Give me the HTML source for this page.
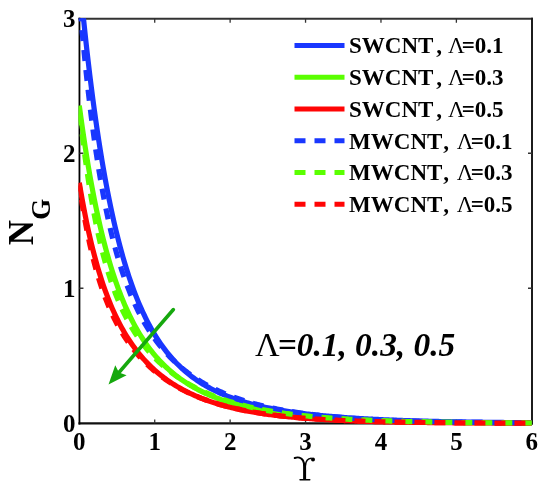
<!DOCTYPE html>
<html><head><meta charset="utf-8"><style>
html,body{margin:0;padding:0;background:#fff;width:550px;height:492px;overflow:hidden}
svg{display:block;filter:blur(0.35px)}
text{font-family:"Liberation Serif",serif;font-kerning:none}
</style></head><body>
<svg width="550" height="492" viewBox="0 0 550 492">
<rect width="550" height="492" fill="#fff"/>
<defs><clipPath id="c"><rect x="78.5" y="18.2" width="454.1" height="408.1"/></clipPath></defs>
<g stroke="#000" stroke-width="2" fill="none">
<path d="M78.45,18.75H533.00" stroke="#333" stroke-width="1.9"/>
<path d="M78.45,423.45H533.00" stroke="#111" stroke-width="2.2"/>
<path d="M79.45,17.85V424.45" stroke="#000" stroke-width="1.8"/>
<path d="M532.00,17.85V424.45" stroke="#1c1c1c" stroke-width="2"/>
<path d="M154.72,423.45v-4M154.72,18.75v4" stroke-width="1.3" stroke="#333"/>
<path d="M230.13,423.45v-4M230.13,18.75v4" stroke-width="1.3" stroke="#333"/>
<path d="M305.55,423.45v-4M305.55,18.75v4" stroke-width="1.3" stroke="#333"/>
<path d="M380.97,423.45v-4M380.97,18.75v4" stroke-width="1.3" stroke="#333"/>
<path d="M456.38,423.45v-4M456.38,18.75v4" stroke-width="1.3" stroke="#333"/>
<path d="M79.45,288.27h4M532.00,288.27h-4" stroke-width="1.3" stroke="#333"/>
<path d="M79.45,153.23h4M532.00,153.23h-4" stroke-width="1.3" stroke="#333"/>
</g>
<g clip-path="url(#c)" fill="none" stroke-width="5.2" stroke-linejoin="round">
<path d="M79.30,-24.65 L80.81,-8.55 L82.32,6.91 L83.83,21.75 L85.33,36.00 L86.84,49.68 L88.35,62.82 L89.86,75.45 L91.37,87.57 L92.88,99.22 L94.38,110.41 L95.89,121.16 L97.40,131.49 L98.91,141.43 L100.42,150.97 L101.92,160.15 L103.43,168.98 L104.94,177.46 L106.45,185.62 L107.96,193.47 L109.47,201.02 L110.97,208.28 L112.48,215.27 L113.99,222.00 L115.50,228.47 L117.01,234.70 L118.52,240.70 L120.03,246.48 L121.53,252.04 L123.04,257.40 L124.55,262.56 L126.06,267.54 L127.57,272.33 L129.07,276.94 L130.58,281.40 L132.09,285.69 L133.60,289.82 L135.11,293.81 L136.62,297.66 L138.12,301.37 L139.63,304.95 L141.14,308.41 L142.65,311.74 L144.16,314.96 L145.67,318.07 L147.17,321.07 L148.68,323.97 L150.19,326.77 L151.70,329.47 L153.21,332.09 L154.72,334.61 L156.22,337.05 L157.73,339.41 L159.24,341.70 L160.75,343.90 L162.26,346.04 L163.77,348.10 L165.27,350.10 L166.78,352.04 L168.29,353.91 L169.80,355.72 L171.31,357.48 L172.82,359.18 L174.32,360.82 L175.83,362.42 L177.34,363.96 L178.85,365.46 L180.36,366.91 L181.87,368.32 L183.37,369.69 L184.88,371.01 L186.39,372.30 L187.90,373.54 L189.41,374.75 L190.92,375.93 L192.42,377.07 L193.93,378.17 L195.44,379.25 L196.95,380.29 L198.46,381.31 L199.97,382.29 L201.47,383.25 L202.98,384.18 L204.49,385.08 L206.00,385.96 L207.51,386.82 L209.02,387.65 L210.52,388.46 L212.03,389.25 L213.54,390.01 L215.05,390.76 L216.56,391.49 L218.07,392.19 L219.57,392.88 L221.08,393.55 L222.59,394.20 L224.10,394.84 L225.61,395.46 L227.12,396.06 L228.62,396.65 L230.13,397.22 L231.64,397.78 L233.15,398.33 L234.66,398.86 L236.17,399.38 L237.67,399.88 L239.18,400.38 L240.69,400.86 L242.20,401.33 L243.71,401.78 L245.22,402.23 L246.72,402.67 L248.23,403.09 L249.74,403.51 L251.25,403.92 L252.76,404.31 L254.27,404.70 L255.77,405.08 L257.28,405.45 L258.79,405.81 L260.30,406.16 L261.81,406.51 L263.32,406.85 L264.82,407.18 L266.33,407.50 L267.84,407.81 L269.35,408.12 L270.86,408.42 L272.37,408.72 L273.87,409.01 L275.38,409.29 L276.89,409.56 L278.40,409.83 L279.91,410.10 L281.42,410.36 L282.93,410.61 L284.43,410.86 L285.94,411.10 L287.45,411.33 L288.96,411.57 L290.47,411.79 L291.97,412.02 L293.48,412.23 L294.99,412.45 L296.50,412.66 L298.01,412.86 L299.52,413.06 L301.02,413.26 L302.53,413.45 L304.04,413.64 L305.55,413.82 L307.06,414.00 L308.57,414.18 L310.07,414.35 L311.58,414.52 L313.09,414.69 L314.60,414.85 L316.11,415.01 L317.62,415.17 L319.12,415.32 L320.63,415.47 L322.14,415.62 L323.65,415.76 L325.16,415.90 L326.67,416.04 L328.17,416.18 L329.68,416.31 L331.19,416.44 L332.70,416.57 L334.21,416.69 L335.72,416.82 L337.22,416.94 L338.73,417.06 L340.24,417.17 L341.75,417.29 L343.26,417.40 L344.77,417.51 L346.27,417.62 L347.78,417.72 L349.29,417.82 L350.80,417.93 L352.31,418.03 L353.82,418.12 L355.32,418.22 L356.83,418.31 L358.34,418.40 L359.85,418.49 L361.36,418.58 L362.87,418.67 L364.37,418.76 L365.88,418.84 L367.39,418.92 L368.90,419.00 L370.41,419.08 L371.92,419.16 L373.42,419.23 L374.93,419.31 L376.44,419.38 L377.95,419.45 L379.46,419.52 L380.97,419.59 L382.47,419.66 L383.98,419.73 L385.49,419.79 L387.00,419.86 L388.51,419.92 L390.02,419.98 L391.52,420.04 L393.03,420.10 L394.54,420.16 L396.05,420.22 L397.56,420.27 L399.07,420.33 L400.57,420.38 L402.08,420.44 L403.59,420.49 L405.10,420.54 L406.61,420.59 L408.12,420.64 L409.62,420.69 L411.13,420.74 L412.64,420.78 L414.15,420.83 L415.66,420.87 L417.17,420.92 L418.67,420.96 L420.18,421.00 L421.69,421.05 L423.20,421.09 L424.71,421.13 L426.22,421.17 L427.72,421.21 L429.23,421.24 L430.74,421.28 L432.25,421.32 L433.76,421.35 L435.27,421.39 L436.77,421.42 L438.28,421.46 L439.79,421.49 L441.30,421.52 L442.81,421.56 L444.32,421.59 L445.83,421.62 L447.33,421.65 L448.84,421.68 L450.35,421.71 L451.86,421.74 L453.37,421.77 L454.88,421.79 L456.38,421.82 L457.89,421.85 L459.40,421.87 L460.91,421.90 L462.42,421.93 L463.92,421.95 L465.43,421.97 L466.94,422.00 L468.45,422.02 L469.96,422.05 L471.47,422.07 L472.97,422.09 L474.48,422.11 L475.99,422.13 L477.50,422.15 L479.01,422.18 L480.52,422.20 L482.02,422.22 L483.53,422.24 L485.04,422.25 L486.55,422.27 L488.06,422.29 L489.57,422.31 L491.07,422.33 L492.58,422.35 L494.09,422.36 L495.60,422.38 L497.11,422.40 L498.62,422.41 L500.12,422.43 L501.63,422.45 L503.14,422.46 L504.65,422.48 L506.16,422.49 L507.67,422.51 L509.17,422.52 L510.68,422.53 L512.19,422.55 L513.70,422.56 L515.21,422.57 L516.72,422.59 L518.22,422.60 L519.73,422.61 L521.24,422.63 L522.75,422.64 L524.26,422.65 L525.77,422.66 L527.27,422.67 L528.78,422.68 L530.29,422.70 L531.80,422.71" stroke="#1937ff"/>
<path d="M79.30,105.54 L80.81,116.82 L82.32,127.63 L83.83,137.99 L85.33,147.92 L86.84,157.44 L88.35,166.57 L89.86,175.33 L91.37,183.73 L92.88,191.79 L94.38,199.52 L95.89,206.95 L97.40,214.08 L98.91,220.93 L100.42,227.51 L101.92,233.83 L103.43,239.91 L104.94,245.75 L106.45,251.36 L107.96,256.76 L109.47,261.96 L110.97,266.96 L112.48,271.77 L113.99,276.40 L115.50,280.86 L117.01,285.16 L118.52,289.30 L120.03,293.29 L121.53,297.13 L123.04,300.84 L124.55,304.41 L126.06,307.86 L127.57,311.18 L129.07,314.39 L130.58,317.49 L132.09,320.48 L133.60,323.37 L135.11,326.16 L136.62,328.86 L138.12,331.46 L139.63,333.98 L141.14,336.41 L142.65,338.77 L144.16,341.05 L145.67,343.25 L147.17,345.38 L148.68,347.45 L150.19,349.45 L151.70,351.38 L153.21,353.26 L154.72,355.08 L156.22,356.84 L157.73,358.54 L159.24,360.20 L160.75,361.80 L162.26,363.36 L163.77,364.87 L165.27,366.33 L166.78,367.75 L168.29,369.13 L169.80,370.47 L171.31,371.77 L172.82,373.04 L174.32,374.27 L175.83,375.46 L177.34,376.62 L178.85,377.74 L180.36,378.84 L181.87,379.90 L183.37,380.94 L184.88,381.94 L186.39,382.92 L187.90,383.88 L189.41,384.80 L190.92,385.71 L192.42,386.59 L193.93,387.44 L195.44,388.27 L196.95,389.08 L198.46,389.87 L199.97,390.64 L201.47,391.39 L202.98,392.12 L204.49,392.84 L206.00,393.53 L207.51,394.21 L209.02,394.86 L210.52,395.51 L212.03,396.13 L213.54,396.75 L215.05,397.34 L216.56,397.92 L218.07,398.49 L219.57,399.04 L221.08,399.58 L222.59,400.11 L224.10,400.62 L225.61,401.13 L227.12,401.61 L228.62,402.09 L230.13,402.56 L231.64,403.02 L233.15,403.46 L234.66,403.89 L236.17,404.32 L237.67,404.73 L239.18,405.14 L240.69,405.53 L242.20,405.92 L243.71,406.30 L245.22,406.67 L246.72,407.03 L248.23,407.38 L249.74,407.72 L251.25,408.06 L252.76,408.39 L254.27,408.71 L255.77,409.02 L257.28,409.33 L258.79,409.63 L260.30,409.92 L261.81,410.21 L263.32,410.49 L264.82,410.76 L266.33,411.03 L267.84,411.29 L269.35,411.55 L270.86,411.80 L272.37,412.04 L273.87,412.28 L275.38,412.51 L276.89,412.74 L278.40,412.97 L279.91,413.19 L281.42,413.40 L282.93,413.61 L284.43,413.82 L285.94,414.02 L287.45,414.21 L288.96,414.40 L290.47,414.59 L291.97,414.78 L293.48,414.96 L294.99,415.13 L296.50,415.30 L298.01,415.47 L299.52,415.64 L301.02,415.80 L302.53,415.96 L304.04,416.11 L305.55,416.26 L307.06,416.41 L308.57,416.55 L310.07,416.70 L311.58,416.83 L313.09,416.97 L314.60,417.10 L316.11,417.23 L317.62,417.36 L319.12,417.48 L320.63,417.61 L322.14,417.73 L323.65,417.84 L325.16,417.96 L326.67,418.07 L328.17,418.18 L329.68,418.28 L331.19,418.39 L332.70,418.49 L334.21,418.59 L335.72,418.69 L337.22,418.79 L338.73,418.88 L340.24,418.97 L341.75,419.06 L343.26,419.15 L344.77,419.24 L346.27,419.32 L347.78,419.41 L349.29,419.49 L350.80,419.57 L352.31,419.65 L353.82,419.72 L355.32,419.80 L356.83,419.87 L358.34,419.94 L359.85,420.01 L361.36,420.08 L362.87,420.15 L364.37,420.21 L365.88,420.28 L367.39,420.34 L368.90,420.40 L370.41,420.46 L371.92,420.52 L373.42,420.58 L374.93,420.63 L376.44,420.69 L377.95,420.74 L379.46,420.80 L380.97,420.85 L382.47,420.90 L383.98,420.95 L385.49,421.00 L387.00,421.05 L388.51,421.09 L390.02,421.14 L391.52,421.18 L393.03,421.23 L394.54,421.27 L396.05,421.31 L397.56,421.36 L399.07,421.40 L400.57,421.44 L402.08,421.47 L403.59,421.51 L405.10,421.55 L406.61,421.59 L408.12,421.62 L409.62,421.66 L411.13,421.69 L412.64,421.72 L414.15,421.76 L415.66,421.79 L417.17,421.82 L418.67,421.85 L420.18,421.88 L421.69,421.91 L423.20,421.94 L424.71,421.97 L426.22,421.99 L427.72,422.02 L429.23,422.05 L430.74,422.07 L432.25,422.10 L433.76,422.12 L435.27,422.15 L436.77,422.17 L438.28,422.20 L439.79,422.22 L441.30,422.24 L442.81,422.26 L444.32,422.29 L445.83,422.31 L447.33,422.33 L448.84,422.35 L450.35,422.37 L451.86,422.39 L453.37,422.41 L454.88,422.42 L456.38,422.44 L457.89,422.46 L459.40,422.48 L460.91,422.49 L462.42,422.51 L463.92,422.53 L465.43,422.54 L466.94,422.56 L468.45,422.57 L469.96,422.59 L471.47,422.60 L472.97,422.62 L474.48,422.63 L475.99,422.65 L477.50,422.66 L479.01,422.67 L480.52,422.69 L482.02,422.70 L483.53,422.71 L485.04,422.72 L486.55,422.74 L488.06,422.75 L489.57,422.76 L491.07,422.77 L492.58,422.78 L494.09,422.79 L495.60,422.80 L497.11,422.81 L498.62,422.82 L500.12,422.83 L501.63,422.84 L503.14,422.85 L504.65,422.86 L506.16,422.87 L507.67,422.88 L509.17,422.89 L510.68,422.90 L512.19,422.91 L513.70,422.91 L515.21,422.92 L516.72,422.93 L518.22,422.94 L519.73,422.94 L521.24,422.95 L522.75,422.96 L524.26,422.97 L525.77,422.97 L527.27,422.98 L528.78,422.99 L530.29,422.99 L531.80,423.00" stroke="#5aff00"/>
<path d="M79.30,182.79 L80.81,191.73 L82.32,200.24 L83.83,208.34 L85.33,216.06 L86.84,223.41 L88.35,230.43 L89.86,237.12 L91.37,243.51 L92.88,249.62 L94.38,255.45 L95.89,261.03 L97.40,266.36 L98.91,271.46 L100.42,276.35 L101.92,281.04 L103.43,285.52 L104.94,289.83 L106.45,293.96 L107.96,297.92 L109.47,301.73 L110.97,305.39 L112.48,308.91 L113.99,312.29 L115.50,315.54 L117.01,318.67 L118.52,321.69 L120.03,324.60 L121.53,327.40 L123.04,330.10 L124.55,332.71 L126.06,335.22 L127.57,337.65 L129.07,340.00 L130.58,342.26 L132.09,344.45 L133.60,346.57 L135.11,348.62 L136.62,350.60 L138.12,352.52 L139.63,354.38 L141.14,356.18 L142.65,357.93 L144.16,359.62 L145.67,361.26 L147.17,362.85 L148.68,364.39 L150.19,365.88 L151.70,367.33 L153.21,368.74 L154.72,370.11 L156.22,371.44 L157.73,372.73 L159.24,373.99 L160.75,375.21 L162.26,376.39 L163.77,377.55 L165.27,378.67 L166.78,379.76 L168.29,380.82 L169.80,381.85 L171.31,382.86 L172.82,383.84 L174.32,384.79 L175.83,385.72 L177.34,386.62 L178.85,387.50 L180.36,388.35 L181.87,389.19 L183.37,390.00 L184.88,390.79 L186.39,391.57 L187.90,392.32 L189.41,393.05 L190.92,393.77 L192.42,394.46 L193.93,395.14 L195.44,395.81 L196.95,396.45 L198.46,397.08 L199.97,397.70 L201.47,398.30 L202.98,398.88 L204.49,399.46 L206.00,400.01 L207.51,400.56 L209.02,401.09 L210.52,401.60 L212.03,402.11 L213.54,402.60 L215.05,403.08 L216.56,403.55 L218.07,404.01 L219.57,404.46 L221.08,404.90 L222.59,405.32 L224.10,405.74 L225.61,406.14 L227.12,406.54 L228.62,406.93 L230.13,407.31 L231.64,407.68 L233.15,408.04 L234.66,408.39 L236.17,408.73 L237.67,409.07 L239.18,409.40 L240.69,409.72 L242.20,410.03 L243.71,410.34 L245.22,410.63 L246.72,410.93 L248.23,411.21 L249.74,411.49 L251.25,411.76 L252.76,412.02 L254.27,412.28 L255.77,412.54 L257.28,412.78 L258.79,413.03 L260.30,413.26 L261.81,413.49 L263.32,413.72 L264.82,413.94 L266.33,414.15 L267.84,414.36 L269.35,414.57 L270.86,414.77 L272.37,414.96 L273.87,415.15 L275.38,415.34 L276.89,415.52 L278.40,415.70 L279.91,415.88 L281.42,416.05 L282.93,416.21 L284.43,416.37 L285.94,416.53 L287.45,416.69 L288.96,416.84 L290.47,416.99 L291.97,417.13 L293.48,417.27 L294.99,417.41 L296.50,417.55 L298.01,417.68 L299.52,417.81 L301.02,417.93 L302.53,418.05 L304.04,418.17 L305.55,418.29 L307.06,418.41 L308.57,418.52 L310.07,418.63 L311.58,418.74 L313.09,418.84 L314.60,418.94 L316.11,419.04 L317.62,419.14 L319.12,419.23 L320.63,419.33 L322.14,419.42 L323.65,419.51 L325.16,419.59 L326.67,419.68 L328.17,419.76 L329.68,419.84 L331.19,419.92 L332.70,420.00 L334.21,420.07 L335.72,420.15 L337.22,420.22 L338.73,420.29 L340.24,420.36 L341.75,420.43 L343.26,420.49 L344.77,420.56 L346.27,420.62 L347.78,420.68 L349.29,420.74 L350.80,420.80 L352.31,420.86 L353.82,420.91 L355.32,420.97 L356.83,421.02 L358.34,421.07 L359.85,421.12 L361.36,421.17 L362.87,421.22 L364.37,421.27 L365.88,421.32 L367.39,421.36 L368.90,421.41 L370.41,421.45 L371.92,421.49 L373.42,421.53 L374.93,421.57 L376.44,421.61 L377.95,421.65 L379.46,421.69 L380.97,421.73 L382.47,421.76 L383.98,421.80 L385.49,421.83 L387.00,421.86 L388.51,421.90 L390.02,421.93 L391.52,421.96 L393.03,421.99 L394.54,422.02 L396.05,422.05 L397.56,422.08 L399.07,422.11 L400.57,422.13 L402.08,422.16 L403.59,422.19 L405.10,422.21 L406.61,422.24 L408.12,422.26 L409.62,422.29 L411.13,422.31 L412.64,422.33 L414.15,422.35 L415.66,422.37 L417.17,422.40 L418.67,422.42 L420.18,422.44 L421.69,422.46 L423.20,422.48 L424.71,422.49 L426.22,422.51 L427.72,422.53 L429.23,422.55 L430.74,422.57 L432.25,422.58 L433.76,422.60 L435.27,422.62 L436.77,422.63 L438.28,422.65 L439.79,422.66 L441.30,422.68 L442.81,422.69 L444.32,422.70 L445.83,422.72 L447.33,422.73 L448.84,422.74 L450.35,422.76 L451.86,422.77 L453.37,422.78 L454.88,422.79 L456.38,422.80 L457.89,422.82 L459.40,422.83 L460.91,422.84 L462.42,422.85 L463.92,422.86 L465.43,422.87 L466.94,422.88 L468.45,422.89 L469.96,422.90 L471.47,422.91 L472.97,422.92 L474.48,422.92 L475.99,422.93 L477.50,422.94 L479.01,422.95 L480.52,422.96 L482.02,422.97 L483.53,422.97 L485.04,422.98 L486.55,422.99 L488.06,423.00 L489.57,423.00 L491.07,423.01 L492.58,423.02 L494.09,423.02 L495.60,423.03 L497.11,423.03 L498.62,423.04 L500.12,423.05 L501.63,423.05 L503.14,423.06 L504.65,423.06 L506.16,423.07 L507.67,423.07 L509.17,423.08 L510.68,423.08 L512.19,423.09 L513.70,423.09 L515.21,423.10 L516.72,423.10 L518.22,423.11 L519.73,423.11 L521.24,423.12 L522.75,423.12 L524.26,423.12 L525.77,423.13 L527.27,423.13 L528.78,423.14 L530.29,423.14 L531.80,423.14" stroke="#ff0505"/>
<path d="M79.30,-1.37 L80.81,16.50 L82.32,33.40 L83.83,49.41 L85.33,64.56 L86.84,78.92 L88.35,92.54 L89.86,105.44 L91.37,117.69 L92.88,129.31 L94.38,140.35 L95.89,150.84 L97.40,160.81 L98.91,170.29 L100.42,179.31 L101.92,187.90 L103.43,196.08 L104.94,203.87 L106.45,211.30 L107.96,218.39 L109.47,225.16 L110.97,231.62 L112.48,237.80 L113.99,243.70 L115.50,249.35 L117.01,254.75 L118.52,259.93 L120.03,264.88 L121.53,269.64 L123.04,274.19 L124.55,278.57 L126.06,282.77 L127.57,286.80 L129.07,290.68 L130.58,294.40 L132.09,297.99 L133.60,301.44 L135.11,304.77 L136.62,307.97 L138.12,311.06 L139.63,314.03 L141.14,316.91 L142.65,319.68 L144.16,322.36 L145.67,324.95 L147.17,327.45 L148.68,329.87 L150.19,332.21 L151.70,334.48 L153.21,336.67 L154.72,338.80 L156.22,340.86 L157.73,342.85 L159.24,344.79 L160.75,346.67 L162.26,348.49 L163.77,350.26 L165.27,351.98 L166.78,353.65 L168.29,355.27 L169.80,356.84 L171.31,358.38 L172.82,359.87 L174.32,361.32 L175.83,362.73 L177.34,364.10 L178.85,365.44 L180.36,366.74 L181.87,368.01 L183.37,369.24 L184.88,370.44 L186.39,371.62 L187.90,372.76 L189.41,373.87 L190.92,374.96 L192.42,376.02 L193.93,377.06 L195.44,378.07 L196.95,379.05 L198.46,380.01 L199.97,380.95 L201.47,381.86 L202.98,382.76 L204.49,383.63 L206.00,384.48 L207.51,385.32 L209.02,386.13 L210.52,386.93 L212.03,387.70 L213.54,388.46 L215.05,389.20 L216.56,389.93 L218.07,390.64 L219.57,391.33 L221.08,392.00 L222.59,392.67 L224.10,393.31 L225.61,393.95 L227.12,394.57 L228.62,395.17 L230.13,395.76 L231.64,396.34 L233.15,396.91 L234.66,397.46 L236.17,398.00 L237.67,398.53 L239.18,399.05 L240.69,399.56 L242.20,400.06 L243.71,400.54 L245.22,401.02 L246.72,401.48 L248.23,401.94 L249.74,402.38 L251.25,402.82 L252.76,403.25 L254.27,403.66 L255.77,404.07 L257.28,404.47 L258.79,404.86 L260.30,405.25 L261.81,405.62 L263.32,405.99 L264.82,406.35 L266.33,406.70 L267.84,407.05 L269.35,407.38 L270.86,407.71 L272.37,408.04 L273.87,408.35 L275.38,408.66 L276.89,408.97 L278.40,409.26 L279.91,409.55 L281.42,409.84 L282.93,410.12 L284.43,410.39 L285.94,410.66 L287.45,410.92 L288.96,411.18 L290.47,411.43 L291.97,411.67 L293.48,411.91 L294.99,412.15 L296.50,412.38 L298.01,412.60 L299.52,412.83 L301.02,413.04 L302.53,413.25 L304.04,413.46 L305.55,413.67 L307.06,413.86 L308.57,414.06 L310.07,414.25 L311.58,414.44 L313.09,414.62 L314.60,414.80 L316.11,414.98 L317.62,415.15 L319.12,415.32 L320.63,415.48 L322.14,415.64 L323.65,415.80 L325.16,415.95 L326.67,416.11 L328.17,416.25 L329.68,416.40 L331.19,416.54 L332.70,416.68 L334.21,416.82 L335.72,416.95 L337.22,417.08 L338.73,417.21 L340.24,417.34 L341.75,417.46 L343.26,417.58 L344.77,417.70 L346.27,417.81 L347.78,417.93 L349.29,418.04 L350.80,418.15 L352.31,418.25 L353.82,418.36 L355.32,418.46 L356.83,418.56 L358.34,418.66 L359.85,418.75 L361.36,418.85 L362.87,418.94 L364.37,419.03 L365.88,419.12 L367.39,419.20 L368.90,419.29 L370.41,419.37 L371.92,419.45 L373.42,419.53 L374.93,419.61 L376.44,419.68 L377.95,419.76 L379.46,419.83 L380.97,419.90 L382.47,419.97 L383.98,420.04 L385.49,420.11 L387.00,420.18 L388.51,420.24 L390.02,420.30 L391.52,420.37 L393.03,420.43 L394.54,420.48 L396.05,420.54 L397.56,420.60 L399.07,420.66 L400.57,420.71 L402.08,420.76 L403.59,420.82 L405.10,420.87 L406.61,420.92 L408.12,420.97 L409.62,421.01 L411.13,421.06 L412.64,421.11 L414.15,421.15 L415.66,421.20 L417.17,421.24 L418.67,421.28 L420.18,421.32 L421.69,421.37 L423.20,421.41 L424.71,421.44 L426.22,421.48 L427.72,421.52 L429.23,421.56 L430.74,421.59 L432.25,421.63 L433.76,421.66 L435.27,421.70 L436.77,421.73 L438.28,421.76 L439.79,421.79 L441.30,421.82 L442.81,421.86 L444.32,421.88 L445.83,421.91 L447.33,421.94 L448.84,421.97 L450.35,422.00 L451.86,422.02 L453.37,422.05 L454.88,422.08 L456.38,422.10 L457.89,422.13 L459.40,422.15 L460.91,422.17 L462.42,422.20 L463.92,422.22 L465.43,422.24 L466.94,422.26 L468.45,422.29 L469.96,422.31 L471.47,422.33 L472.97,422.35 L474.48,422.37 L475.99,422.39 L477.50,422.41 L479.01,422.42 L480.52,422.44 L482.02,422.46 L483.53,422.48 L485.04,422.49 L486.55,422.51 L488.06,422.53 L489.57,422.54 L491.07,422.56 L492.58,422.57 L494.09,422.59 L495.60,422.60 L497.11,422.62 L498.62,422.63 L500.12,422.65 L501.63,422.66 L503.14,422.67 L504.65,422.69 L506.16,422.70 L507.67,422.71 L509.17,422.72 L510.68,422.73 L512.19,422.75 L513.70,422.76 L515.21,422.77 L516.72,422.78 L518.22,422.79 L519.73,422.80 L521.24,422.81 L522.75,422.82 L524.26,422.83 L525.77,422.84 L527.27,422.85 L528.78,422.86 L530.29,422.87 L531.80,422.88" stroke="#1937ff" stroke-dasharray="11 9" stroke-dashoffset="8.4"/>
<path d="M79.30,108.79 L80.81,122.58 L82.32,135.54 L83.83,147.72 L85.33,159.19 L86.84,169.99 L88.35,180.17 L89.86,189.78 L91.37,198.84 L92.88,207.40 L94.38,215.49 L95.89,223.14 L97.40,230.39 L98.91,237.26 L100.42,243.77 L101.92,249.95 L103.43,255.82 L104.94,261.40 L106.45,266.70 L107.96,271.76 L109.47,276.57 L110.97,281.16 L112.48,285.54 L113.99,289.73 L115.50,293.73 L117.01,297.56 L118.52,301.22 L120.03,304.73 L121.53,308.10 L123.04,311.33 L124.55,314.43 L126.06,317.42 L127.57,320.28 L129.07,323.04 L130.58,325.70 L132.09,328.26 L133.60,330.73 L135.11,333.11 L136.62,335.41 L138.12,337.63 L139.63,339.78 L141.14,341.85 L142.65,343.86 L144.16,345.80 L145.67,347.69 L147.17,349.51 L148.68,351.28 L150.19,353.00 L151.70,354.66 L153.21,356.28 L154.72,357.85 L156.22,359.37 L157.73,360.85 L159.24,362.30 L160.75,363.70 L162.26,365.06 L163.77,366.39 L165.27,367.68 L166.78,368.93 L168.29,370.16 L169.80,371.35 L171.31,372.51 L172.82,373.65 L174.32,374.75 L175.83,375.83 L177.34,376.88 L178.85,377.90 L180.36,378.90 L181.87,379.88 L183.37,380.83 L184.88,381.76 L186.39,382.66 L187.90,383.55 L189.41,384.41 L190.92,385.26 L192.42,386.08 L193.93,386.89 L195.44,387.68 L196.95,388.45 L198.46,389.20 L199.97,389.93 L201.47,390.65 L202.98,391.35 L204.49,392.04 L206.00,392.71 L207.51,393.37 L209.02,394.01 L210.52,394.64 L212.03,395.25 L213.54,395.85 L215.05,396.44 L216.56,397.01 L218.07,397.57 L219.57,398.12 L221.08,398.66 L222.59,399.18 L224.10,399.69 L225.61,400.20 L227.12,400.69 L228.62,401.17 L230.13,401.64 L231.64,402.10 L233.15,402.55 L234.66,402.99 L236.17,403.42 L237.67,403.84 L239.18,404.26 L240.69,404.66 L242.20,405.06 L243.71,405.44 L245.22,405.82 L246.72,406.19 L248.23,406.55 L249.74,406.91 L251.25,407.26 L252.76,407.60 L254.27,407.93 L255.77,408.25 L257.28,408.57 L258.79,408.88 L260.30,409.19 L261.81,409.49 L263.32,409.78 L264.82,410.07 L266.33,410.35 L267.84,410.62 L269.35,410.89 L270.86,411.15 L272.37,411.41 L273.87,411.66 L275.38,411.90 L276.89,412.15 L278.40,412.38 L279.91,412.61 L281.42,412.84 L282.93,413.06 L284.43,413.28 L285.94,413.49 L287.45,413.70 L288.96,413.90 L290.47,414.10 L291.97,414.29 L293.48,414.48 L294.99,414.67 L296.50,414.85 L298.01,415.03 L299.52,415.20 L301.02,415.37 L302.53,415.54 L304.04,415.71 L305.55,415.87 L307.06,416.02 L308.57,416.18 L310.07,416.33 L311.58,416.47 L313.09,416.62 L314.60,416.76 L316.11,416.90 L317.62,417.03 L319.12,417.17 L320.63,417.30 L322.14,417.42 L323.65,417.55 L325.16,417.67 L326.67,417.79 L328.17,417.90 L329.68,418.02 L331.19,418.13 L332.70,418.24 L334.21,418.35 L335.72,418.45 L337.22,418.55 L338.73,418.65 L340.24,418.75 L341.75,418.85 L343.26,418.94 L344.77,419.03 L346.27,419.12 L347.78,419.21 L349.29,419.30 L350.80,419.38 L352.31,419.46 L353.82,419.55 L355.32,419.63 L356.83,419.70 L358.34,419.78 L359.85,419.85 L361.36,419.93 L362.87,420.00 L364.37,420.07 L365.88,420.14 L367.39,420.20 L368.90,420.27 L370.41,420.33 L371.92,420.39 L373.42,420.46 L374.93,420.52 L376.44,420.57 L377.95,420.63 L379.46,420.69 L380.97,420.74 L382.47,420.80 L383.98,420.85 L385.49,420.90 L387.00,420.95 L388.51,421.00 L390.02,421.05 L391.52,421.10 L393.03,421.14 L394.54,421.19 L396.05,421.23 L397.56,421.28 L399.07,421.32 L400.57,421.36 L402.08,421.40 L403.59,421.44 L405.10,421.48 L406.61,421.52 L408.12,421.56 L409.62,421.60 L411.13,421.63 L412.64,421.67 L414.15,421.70 L415.66,421.74 L417.17,421.77 L418.67,421.80 L420.18,421.83 L421.69,421.86 L423.20,421.89 L424.71,421.92 L426.22,421.95 L427.72,421.98 L429.23,422.01 L430.74,422.04 L432.25,422.06 L433.76,422.09 L435.27,422.11 L436.77,422.14 L438.28,422.16 L439.79,422.19 L441.30,422.21 L442.81,422.23 L444.32,422.26 L445.83,422.28 L447.33,422.30 L448.84,422.32 L450.35,422.34 L451.86,422.36 L453.37,422.38 L454.88,422.40 L456.38,422.42 L457.89,422.44 L459.40,422.46 L460.91,422.48 L462.42,422.49 L463.92,422.51 L465.43,422.53 L466.94,422.54 L468.45,422.56 L469.96,422.57 L471.47,422.59 L472.97,422.60 L474.48,422.62 L475.99,422.63 L477.50,422.65 L479.01,422.66 L480.52,422.68 L482.02,422.69 L483.53,422.70 L485.04,422.71 L486.55,422.73 L488.06,422.74 L489.57,422.75 L491.07,422.76 L492.58,422.77 L494.09,422.78 L495.60,422.80 L497.11,422.81 L498.62,422.82 L500.12,422.83 L501.63,422.84 L503.14,422.85 L504.65,422.86 L506.16,422.87 L507.67,422.87 L509.17,422.88 L510.68,422.89 L512.19,422.90 L513.70,422.91 L515.21,422.92 L516.72,422.93 L518.22,422.93 L519.73,422.94 L521.24,422.95 L522.75,422.96 L524.26,422.96 L525.77,422.97 L527.27,422.98 L528.78,422.98 L530.29,422.99 L531.80,423.00" stroke="#5aff00" stroke-dasharray="11 9" stroke-dashoffset="14.4"/>
<path d="M79.30,185.43 L80.81,195.57 L82.32,205.08 L83.83,214.01 L85.33,222.39 L86.84,230.27 L88.35,237.69 L89.86,244.68 L91.37,251.28 L92.88,257.51 L94.38,263.40 L95.89,268.98 L97.40,274.27 L98.91,279.28 L100.42,284.04 L101.92,288.57 L103.43,292.88 L104.94,296.98 L106.45,300.90 L107.96,304.64 L109.47,308.21 L110.97,311.63 L112.48,314.90 L113.99,318.04 L115.50,321.05 L117.01,323.93 L118.52,326.71 L120.03,329.38 L121.53,331.95 L123.04,334.42 L124.55,336.81 L126.06,339.11 L127.57,341.33 L129.07,343.48 L130.58,345.55 L132.09,347.55 L133.60,349.49 L135.11,351.37 L136.62,353.19 L138.12,354.95 L139.63,356.66 L141.14,358.32 L142.65,359.93 L144.16,361.49 L145.67,363.01 L147.17,364.48 L148.68,365.91 L150.19,367.31 L151.70,368.66 L153.21,369.98 L154.72,371.26 L156.22,372.50 L157.73,373.72 L159.24,374.90 L160.75,376.05 L162.26,377.17 L163.77,378.26 L165.27,379.33 L166.78,380.36 L168.29,381.38 L169.80,382.36 L171.31,383.32 L172.82,384.26 L174.32,385.17 L175.83,386.06 L177.34,386.93 L178.85,387.78 L180.36,388.61 L181.87,389.42 L183.37,390.20 L184.88,390.97 L186.39,391.72 L187.90,392.46 L189.41,393.17 L190.92,393.87 L192.42,394.55 L193.93,395.22 L195.44,395.87 L196.95,396.50 L198.46,397.12 L199.97,397.72 L201.47,398.31 L202.98,398.89 L204.49,399.45 L206.00,400.00 L207.51,400.54 L209.02,401.07 L210.52,401.58 L212.03,402.08 L213.54,402.57 L215.05,403.05 L216.56,403.51 L218.07,403.97 L219.57,404.41 L221.08,404.85 L222.59,405.27 L224.10,405.69 L225.61,406.09 L227.12,406.49 L228.62,406.87 L230.13,407.25 L231.64,407.62 L233.15,407.98 L234.66,408.33 L236.17,408.68 L237.67,409.01 L239.18,409.34 L240.69,409.66 L242.20,409.97 L243.71,410.28 L245.22,410.58 L246.72,410.87 L248.23,411.16 L249.74,411.44 L251.25,411.71 L252.76,411.97 L254.27,412.23 L255.77,412.49 L257.28,412.74 L258.79,412.98 L260.30,413.22 L261.81,413.45 L263.32,413.67 L264.82,413.90 L266.33,414.11 L267.84,414.32 L269.35,414.53 L270.86,414.73 L272.37,414.93 L273.87,415.12 L275.38,415.31 L276.89,415.49 L278.40,415.67 L279.91,415.84 L281.42,416.02 L282.93,416.18 L284.43,416.35 L285.94,416.51 L287.45,416.66 L288.96,416.81 L290.47,416.96 L291.97,417.11 L293.48,417.25 L294.99,417.39 L296.50,417.53 L298.01,417.66 L299.52,417.79 L301.02,417.91 L302.53,418.04 L304.04,418.16 L305.55,418.28 L307.06,418.39 L308.57,418.50 L310.07,418.61 L311.58,418.72 L313.09,418.83 L314.60,418.93 L316.11,419.03 L317.62,419.13 L319.12,419.22 L320.63,419.32 L322.14,419.41 L323.65,419.50 L325.16,419.59 L326.67,419.67 L328.17,419.75 L329.68,419.84 L331.19,419.91 L332.70,419.99 L334.21,420.07 L335.72,420.14 L337.22,420.21 L338.73,420.29 L340.24,420.35 L341.75,420.42 L343.26,420.49 L344.77,420.55 L346.27,420.62 L347.78,420.68 L349.29,420.74 L350.80,420.80 L352.31,420.85 L353.82,420.91 L355.32,420.97 L356.83,421.02 L358.34,421.07 L359.85,421.12 L361.36,421.17 L362.87,421.22 L364.37,421.27 L365.88,421.32 L367.39,421.36 L368.90,421.41 L370.41,421.45 L371.92,421.49 L373.42,421.53 L374.93,421.57 L376.44,421.61 L377.95,421.65 L379.46,421.69 L380.97,421.73 L382.47,421.76 L383.98,421.80 L385.49,421.83 L387.00,421.87 L388.51,421.90 L390.02,421.93 L391.52,421.96 L393.03,421.99 L394.54,422.02 L396.05,422.05 L397.56,422.08 L399.07,422.11 L400.57,422.14 L402.08,422.16 L403.59,422.19 L405.10,422.21 L406.61,422.24 L408.12,422.26 L409.62,422.29 L411.13,422.31 L412.64,422.33 L414.15,422.36 L415.66,422.38 L417.17,422.40 L418.67,422.42 L420.18,422.44 L421.69,422.46 L423.20,422.48 L424.71,422.50 L426.22,422.52 L427.72,422.53 L429.23,422.55 L430.74,422.57 L432.25,422.59 L433.76,422.60 L435.27,422.62 L436.77,422.63 L438.28,422.65 L439.79,422.66 L441.30,422.68 L442.81,422.69 L444.32,422.71 L445.83,422.72 L447.33,422.73 L448.84,422.75 L450.35,422.76 L451.86,422.77 L453.37,422.78 L454.88,422.80 L456.38,422.81 L457.89,422.82 L459.40,422.83 L460.91,422.84 L462.42,422.85 L463.92,422.86 L465.43,422.87 L466.94,422.88 L468.45,422.89 L469.96,422.90 L471.47,422.91 L472.97,422.92 L474.48,422.93 L475.99,422.94 L477.50,422.94 L479.01,422.95 L480.52,422.96 L482.02,422.97 L483.53,422.98 L485.04,422.98 L486.55,422.99 L488.06,423.00 L489.57,423.00 L491.07,423.01 L492.58,423.02 L494.09,423.02 L495.60,423.03 L497.11,423.04 L498.62,423.04 L500.12,423.05 L501.63,423.05 L503.14,423.06 L504.65,423.07 L506.16,423.07 L507.67,423.08 L509.17,423.08 L510.68,423.09 L512.19,423.09 L513.70,423.10 L515.21,423.10 L516.72,423.11 L518.22,423.11 L519.73,423.11 L521.24,423.12 L522.75,423.12 L524.26,423.13 L525.77,423.13 L527.27,423.13 L528.78,423.14 L530.29,423.14 L531.80,423.15" stroke="#ff0505" stroke-dasharray="11 9" stroke-dashoffset="5.3"/>
</g>
<g font-family="Liberation Serif" font-weight="bold" font-size="25" fill="#000">
<text x="79.30" y="450" text-anchor="middle">0</text>
<text x="154.72" y="450" text-anchor="middle">1</text>
<text x="230.13" y="450" text-anchor="middle">2</text>
<text x="305.55" y="450" text-anchor="middle">3</text>
<text x="380.97" y="450" text-anchor="middle">4</text>
<text x="456.38" y="450" text-anchor="middle">5</text>
<text x="531.80" y="450" text-anchor="middle">6</text>
<text x="75.6" y="431.80" text-anchor="end">0</text>
<text x="75.6" y="296.77" text-anchor="end">1</text>
<text x="75.6" y="161.73" text-anchor="end">2</text>
<text x="75.6" y="26.70" text-anchor="end">3</text>
</g>
<g fill="none" stroke-width="5.2">
<path d="M294.5,45.50H344.5" stroke="#1937ff"/>
<path d="M294.5,77.25H344.5" stroke="#5aff00"/>
<path d="M294.5,109.00H344.5" stroke="#ff0505"/>
<path d="M294.5,140.75H344.5" stroke="#1937ff" stroke-dasharray="11 9"/>
<path d="M294.5,172.50H344.5" stroke="#5aff00" stroke-dasharray="11 9"/>
<path d="M294.5,204.25H344.5" stroke="#ff0505" stroke-dasharray="11 9"/>
</g>
<g font-family="Liberation Serif" font-weight="bold" font-size="24" fill="#000" transform="translate(349,0) scale(0.96,1) translate(-349,0)">
<text x="349" y="53.50">SWCNT<tspan dx="3">,</tspan> <tspan dx="0" font-weight="normal">&#923;</tspan><tspan dx="-3">=0.1</tspan></text>
<text x="349" y="85.25">SWCNT<tspan dx="3">,</tspan> <tspan dx="0" font-weight="normal">&#923;</tspan><tspan dx="-3">=0.3</tspan></text>
<text x="349" y="117.00">SWCNT<tspan dx="3">,</tspan> <tspan dx="0" font-weight="normal">&#923;</tspan><tspan dx="-3">=0.5</tspan></text>
<text x="349" y="148.75">MWCNT<tspan dx="1">,</tspan> <tspan dx="2" font-weight="normal">&#923;</tspan><tspan dx="-3">=0.1</tspan></text>
<text x="349" y="180.50">MWCNT<tspan dx="1">,</tspan> <tspan dx="2" font-weight="normal">&#923;</tspan><tspan dx="-3">=0.3</tspan></text>
<text x="349" y="212.25">MWCNT<tspan dx="1">,</tspan> <tspan dx="2" font-weight="normal">&#923;</tspan><tspan dx="-3">=0.5</tspan></text>
</g>
<text x="255" y="356" font-family="Liberation Serif" font-size="34" fill="#000"><tspan>&#923;</tspan><tspan dx="-2" font-size="33.4" font-weight="bold" font-style="italic">=0.1, 0.3, 0.5</tspan></text>
<path d="M173.40,309.50L118.96,372.49" stroke="#16a80e" stroke-width="3.5" stroke-linecap="round"/>
<path d="M108.50,384.60L115.25,365.32L118.96,372.49L126.60,375.13Z" fill="#16a80e"/>
<g transform="translate(32.8,245.2) rotate(-90)" font-family="Liberation Serif" font-weight="bold" fill="#000"><text x="0" y="0" font-size="35">N</text><text x="25.5" y="17.2" font-size="27">G</text></g>
<g fill="none" stroke="#000" stroke-linecap="round"><path d="M294.8,458 C297.8,456.8 301.4,457.6 303,460.6 C303.8,462.2 304.2,463.6 304.3,465.5" stroke-width="2.1"/><path d="M304.6,463.5 L304.6,479.2" stroke-width="3" stroke-linecap="butt"/><path d="M300,479.7 L309.8,479.7" stroke-width="1.4"/><path d="M305.4,465.5 C305.8,461.2 307.8,458.6 311.2,458.3" stroke-width="1.5"/><circle cx="313" cy="459.4" r="2" fill="#000" stroke="none"/></g>
</svg>
</body></html>
